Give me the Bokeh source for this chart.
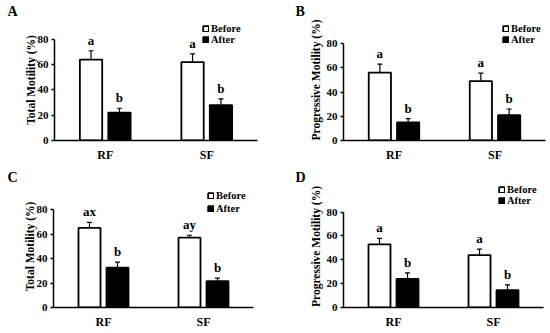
from bokeh.plotting import figure
from bokeh.models import (ColumnDataSource, FactorRange, Range1d, FixedTicker, Whisker,
                          TeeHead, Legend, LegendItem)
from bokeh.transform import dodge
from bokeh.layouts import column, row
from bokeh.core.properties import value
from bokeh.embed import file_html
from bokeh.resources import INLINE

categories = ["RF", "SF"]
series_names = ["Before", "After"]

# Panel A
a_before = [64, 62]
a_before_err = [7, 6.5]
a_after = [22, 28]
a_after_err = [3.5, 5]
a_before_lbl = ["a", "a"]
a_after_lbl = ["b", "b"]

# Panel B
b_before = [56, 49]
b_before_err = [7, 6.5]
b_after = [15, 21]
b_after_err = [3, 5]
b_before_lbl = ["a", "a"]
b_after_lbl = ["b", "b"]

# Panel C
c_before = [65, 57]
c_before_err = [4.5, 2]
c_after = [32.5, 21.5]
c_after_err = [4.5, 2.5]
c_before_lbl = ["ax", "ay"]
c_after_lbl = ["b", "b"]

# Panel D
d_before = [53, 44]
d_before_err = [5, 5]
d_after = [24, 14.5]
d_after_err = [5, 4.5]
d_before_lbl = ["a", "a"]
d_after_lbl = ["b", "b"]

y_ticks = [0, 20, 40, 60, 80]

FONT = "Liberation Serif"


def panel(letter, ylabel, before, before_err, after, after_err, before_lbl, after_lbl,
          w, h, left, right, bottom, y_end, label_standoff, leg_xy, leg_spacing, letter_off):
    p = figure(width=w, height=h, x_range=FactorRange(factors=categories, range_padding=0),
               y_range=Range1d(0, y_end), output_backend="svg", toolbar_location=None,
               min_border_left=left, min_border_right=right, min_border_top=19,
               min_border_bottom=bottom)
    p.xgrid.visible = False
    p.ygrid.visible = False
    p.outline_line_color = None

    p.title.text = letter
    p.title.align = "left"
    p.title.offset = letter_off
    p.title.standoff = 1
    p.title.text_font = FONT
    p.title.text_font_style = "bold"
    p.title.text_font_size = "14px"
    p.title.text_color = "black"

    offsets = [-0.14, 0.14]
    fills = ["white", "black"]
    vals = [before, after]
    errs = [before_err, after_err]
    lbls = [before_lbl, after_lbl]
    rends = []
    for i in range(2):
        src = ColumnDataSource(dict(cat=categories, val=vals[i],
                                    up=[v + e for v, e in zip(vals[i], errs[i])],
                                    lbl=lbls[i]))
        xpos = dodge("cat", offsets[i], range=p.x_range)
        wh = Whisker(source=src, base=xpos, lower="val", upper="up",
                     line_color="black", line_width=1.2,
                     upper_head=TeeHead(size=5, line_color="black", line_width=1.2),
                     lower_head=None)
        p.add_layout(wh)
        r = p.vbar(x=xpos, top="val", bottom=0, width=0.22, source=src,
                   fill_color=fills[i], line_color="black", line_width=1.8)
        rends.append(r)
        p.text(x=xpos, y="up", text="lbl", source=src, text_align="center",
               text_baseline="bottom", y_offset=-3, text_font=value(FONT),
               text_font_style="bold", text_font_size="13px", text_color="black")

    yax = p.yaxis[0]
    yax.bounds = (0, 80)
    yax.ticker = FixedTicker(ticks=y_ticks)
    yax.minor_tick_line_color = None
    yax.major_tick_in = 0
    yax.major_tick_out = 3
    yax.axis_line_width = 1.5
    yax.major_tick_line_width = 1.5
    yax.major_label_standoff = 3
    yax.major_label_text_font = FONT
    yax.major_label_text_font_style = "bold"
    yax.major_label_text_font_size = "11px"
    yax.major_label_text_color = "black"
    yax.axis_label = ylabel
    yax.axis_label_text_font = FONT
    yax.axis_label_text_font_style = "bold"
    yax.axis_label_text_font_size = "11.5px"
    yax.axis_label_text_color = "black"
    yax.axis_label_standoff = label_standoff

    xax = p.xaxis[0]
    xax.major_tick_in = 0
    xax.major_tick_out = 0
    xax.axis_line_width = 1.5
    xax.major_label_standoff = 7
    xax.major_label_text_font = FONT
    xax.major_label_text_font_style = "bold"
    xax.major_label_text_font_size = "12px"
    xax.major_label_text_color = "black"

    legend = Legend(items=[LegendItem(label=series_names[0], renderers=[rends[0]]),
                           LegendItem(label=series_names[1], renderers=[rends[1]])],
                    location=leg_xy, orientation="vertical", padding=0, margin=0,
                    spacing=leg_spacing, label_height=10, glyph_height=7, glyph_width=7,
                    label_standoff=2, background_fill_alpha=0, border_line_alpha=0,
                    label_text_font=FONT, label_text_font_style="bold",
                    label_text_font_size="10.5px", label_text_color="black")
    p.add_layout(legend)
    return p


pA = panel("A", "Total Motility (%)", a_before, a_before_err, a_after, a_after_err,
           a_before_lbl, a_after_lbl, 275, 166, 54, 18, 25, 95.7, -2, (148, 95), 0, -47)
pB = panel("B", "Progressive Motility (%)", b_before, b_before_err, b_after, b_after_err,
           b_before_lbl, b_after_lbl, 275, 166, 68, 5, 26, 99.8, 2, (159, 95), 0, -48)
pC = panel("C", "Total Motility (%)", c_before, c_before_err, c_after, c_after_err,
           c_before_lbl, c_after_lbl, 275, 167, 53, 22, 26, 99.6, -2, (154, 93), 2, -46)
pD = panel("D", "Progressive Motility (%)", d_before, d_before_err, d_after, d_after_err,
           d_before_lbl, d_after_lbl, 275, 167, 68, 7, 24, 102.3, 2, (155, 101), 0, -48)

layout = column(row(pA, pB), row(pC, pD))

open("out.html", "w").write(file_html(layout, INLINE))
